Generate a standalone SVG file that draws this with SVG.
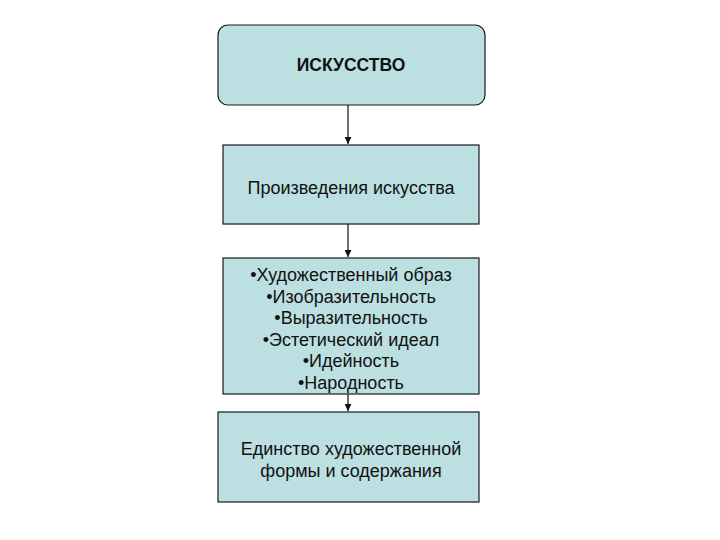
<svg xmlns="http://www.w3.org/2000/svg" width="720" height="540" viewBox="0 0 720 540">
<style>
.box{fill:#bcdfe1;stroke:#1a1a1a;stroke-width:1.2}
.t{font-family:"Liberation Sans",Arial,sans-serif;font-size:18px;fill:#111;text-anchor:middle}
.b{font-weight:bold;font-size:17.5px}
.c{stroke:#111;stroke-width:1.2;fill:none;marker-end:url(#ah)}
</style>
<defs>
<marker id="ah" viewBox="0 0 10 10" refX="10" refY="5" markerWidth="7" markerHeight="7" markerUnits="userSpaceOnUse" orient="auto">
<path d="M0,0 L10,5 L0,10 z" fill="#111"/>
</marker>
</defs>
<rect width="720" height="540" fill="#fff"/>
<g id="connectors">
<line class="c" x1="348" y1="105" x2="348" y2="144"/>
<line class="c" x1="348" y1="224" x2="348" y2="257"/>
<line class="c" x1="348" y1="394" x2="348" y2="411"/>
</g>
<g id="n1">
<rect class="box" x="218" y="25" width="267" height="80" rx="10"/>
<text class="t b" x="351" y="71">ИСКУССТВО</text>
</g>
<g id="n2">
<rect class="box" x="223" y="145" width="256" height="79"/>
<text class="t" x="351" y="194">Произведения искусства</text>
</g>
<g id="n3">
<rect class="box" x="223" y="258" width="256" height="136"/>
<text class="t" x="351" y="281">•Художественный образ</text>
<text class="t" x="351" y="303">•Изобразительность</text>
<text class="t" x="351" y="324">•Выразительность</text>
<text class="t" x="351" y="346">•Эстетический идеал</text>
<text class="t" x="351" y="367">•Идейность</text>
<text class="t" x="351" y="389">•Народность</text>
</g>
<g id="n4">
<rect class="box" x="218" y="412" width="261" height="90"/>
<text class="t" x="351" y="455">Единство художественной</text>
<text class="t" x="351" y="477">формы и содержания</text>
</g>
</svg>
